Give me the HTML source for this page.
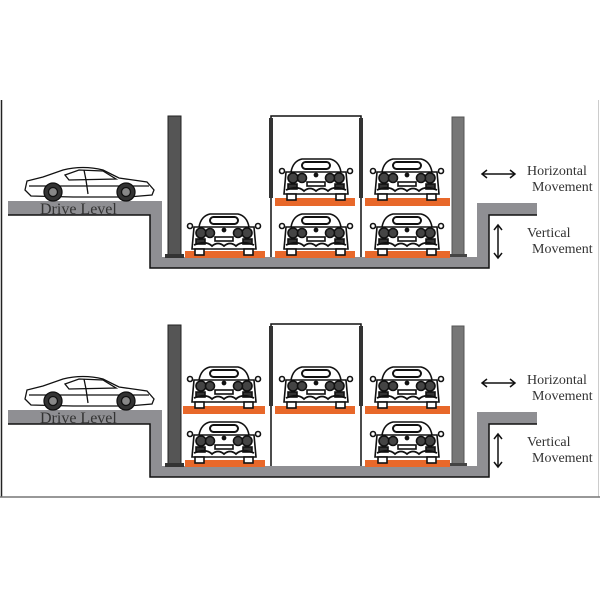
<!DOCTYPE html>
<html><head><meta charset="utf-8"><style>
html,body{margin:0;padding:0;background:#fff;}
svg{display:block}
text{font-family:"Liberation Serif",serif;fill:#333}
</style></head><body>
<svg width="600" height="600" viewBox="0 0 600 600" xmlns="http://www.w3.org/2000/svg">
<defs>
<g id="fc" fill="none" stroke="#111" stroke-width="1.6">
  <path d="M13 14 Q15 3 24 1 L52 1 Q61 3 63 14" fill="#fff"/>
  <rect x="24" y="4" width="28" height="7" rx="3.5" stroke-width="2"/>
  <path d="M8 14 L68 14 L70 36 L6 36 Z" fill="#fff"/>
  <circle cx="4" cy="13" r="2.5"/><circle cx="72" cy="13" r="2.5"/>
  <circle cx="15" cy="20" r="5" fill="#444"/><circle cx="24" cy="20" r="4.5" fill="#444"/>
  <circle cx="61" cy="20" r="5" fill="#444"/><circle cx="52" cy="20" r="4.5" fill="#444"/>
  <circle cx="38" cy="17" r="1.6" fill="#111"/>
  <rect x="29" y="24" width="18" height="4"/>
  <rect x="10" y="26" width="9" height="5" fill="#333"/><rect x="57" y="26" width="9" height="5" fill="#333"/>
  <path d="M8 32 Q20 27 26 33 Q32 28 38 33 Q44 28 50 33 Q56 27 68 32" stroke-width="1.8"/>
  <rect x="9" y="36" width="9" height="6" fill="#fff"/><rect x="58" y="36" width="9" height="6" fill="#fff"/>
</g>
<g id="sc" fill="none" stroke="#111" stroke-width="1.3">
  <path d="M2 24 L4 15 L20 11 L40 4 Q60 -1 80 4 L96 12 L124 16 L131 24 L129 29 L105 31 L50 31 L8 30 Z" fill="#fff"/>
  <path d="M42 9 L56 4 L80 5 L93 13 L46 14 Z"/>
  <path d="M61 4 L63 14 L65 28"/>
  <path d="M6 20 L126 20"/>
  <circle cx="30" cy="26" r="9" fill="#333"/><circle cx="30" cy="26" r="4.5" fill="#888"/>
  <circle cx="103" cy="26" r="9" fill="#333"/><circle cx="103" cy="26" r="4.5" fill="#888"/>
</g>
<g id="panel">
  <path d="M8 201 L162 201 L162 257 L477 257 L477 203 L537 203 L537 215 L489 215 L489 268 L150 268 L150 215 L8 215 Z" fill="#8f8f93"/>
  <polyline points="8,215 150,215 150,268 489,268 489,215 537,215" fill="none" stroke="#111" stroke-width="1.5"/>
  <rect x="168" y="116" width="13" height="141" fill="#555" stroke="#222" stroke-width="1"/>
  <rect x="165" y="254" width="19" height="4" fill="#333"/>
  <rect x="452" y="117" width="12" height="139" fill="#777" stroke="#555"/>
  <rect x="449" y="254" width="18" height="3" fill="#444"/>
  <use href="#sc" x="23" y="166"/>
  <text x="40" y="214" font-size="16">Drive Level</text>
  <line x1="482" y1="174" x2="515" y2="174" stroke="#111" stroke-width="1.5"/>
  <path d="M487 170 L482 174 L487 178 M510 170 L515 174 L510 178" fill="none" stroke="#111" stroke-width="1.5"/>
  <line x1="498" y1="225" x2="498" y2="258" stroke="#111" stroke-width="1.5"/>
  <path d="M494 230 L498 225 L502 230 M494 253 L498 258 L502 253" fill="none" stroke="#111" stroke-width="1.5"/>
  <text x="527" y="175" font-size="14">Horizontal</text>
  <text x="532" y="191" font-size="14">Movement</text>
  <text x="527" y="237" font-size="14">Vertical</text>
  <text x="532" y="253" font-size="14">Movement</text>
</g>
</defs>
<line x1="1.5" y1="100" x2="1.5" y2="497" stroke="#222" stroke-width="1.5"/>
<line x1="598.5" y1="100" x2="598.5" y2="497" stroke="#ccc" stroke-width="1"/>
<line x1="0" y1="497" x2="600" y2="497" stroke="#777" stroke-width="1.5"/>

<use href="#panel"/>
<path d="M271 257 L271 116 L361 116 L361 257" fill="none" stroke="#111" stroke-width="1.5"/>
<rect x="269" y="118" width="4" height="80" fill="#333"/><rect x="359" y="118" width="4" height="80" fill="#333"/>
<rect x="185" y="251" width="80" height="7" fill="#e8682a"/>
<rect x="275" y="251" width="80" height="7" fill="#e8682a"/>
<rect x="365" y="251" width="85" height="7" fill="#e8682a"/>
<rect x="275" y="198" width="80" height="8" fill="#e8682a"/>
<rect x="365" y="198" width="85" height="8" fill="#e8682a"/>
<use href="#fc" x="186" y="213"/>
<use href="#fc" x="278" y="213"/>
<use href="#fc" x="369" y="213"/>
<use href="#fc" x="278" y="158"/>
<use href="#fc" x="369" y="158"/>

<use href="#panel" y="209"/>
<path d="M271 466 L271 324 L361 324 L361 466" fill="none" stroke="#111" stroke-width="1.5"/>
<rect x="269" y="326" width="4" height="80" fill="#333"/><rect x="359" y="326" width="4" height="80" fill="#333"/>
<rect x="183" y="406" width="82" height="8" fill="#e8682a"/>
<rect x="275" y="406" width="80" height="8" fill="#e8682a"/>
<rect x="365" y="406" width="85" height="8" fill="#e8682a"/>
<rect x="185" y="460" width="80" height="7" fill="#e8682a"/>
<rect x="365" y="460" width="85" height="7" fill="#e8682a"/>
<use href="#fc" x="186" y="366"/>
<use href="#fc" x="278" y="366"/>
<use href="#fc" x="369" y="366"/>
<use href="#fc" x="186" y="421"/>
<use href="#fc" x="369" y="421"/>
</svg>
</body></html>
